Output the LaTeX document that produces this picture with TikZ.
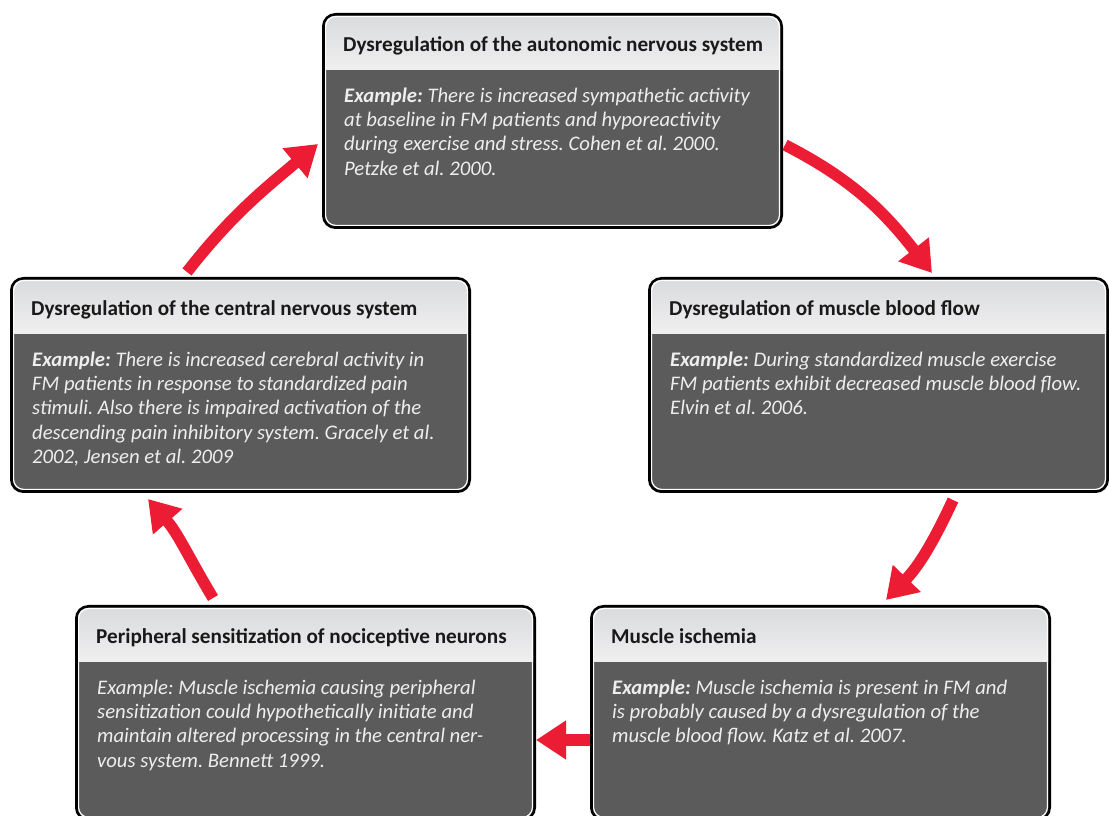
\documentclass[tikz,border=0pt]{standalone}
\usepackage{fontspec}
\setmainfont{Carlito}
\usepackage{xcolor}
\usepackage{tikz}
\usetikzlibrary{positioning, arrows.meta}
\frenchspacing

\definecolor{fmred}{RGB}{236,28,52}
\definecolor{bodygray}{RGB}{91,91,91}
\definecolor{headtop}{RGB}{217,218,220}
\definecolor{headbot}{RGB}{239,239,240}
\definecolor{bodytext}{RGB}{238,238,238}

\tikzset{
  boxframe/.style={draw=black, line width=3pt, rounded corners=12pt, minimum width=458pt,
    minimum height=213pt, outer sep=1.5pt, inner sep=0pt, anchor=north west},
  boxtitle/.style={anchor=base west, inner sep=0pt, text=black!90,
    font=\bfseries\fontsize{21.2}{24}\selectfont},
  boxtext/.style={anchor=north west, inner sep=0pt, align=left, text=bodytext,
    font=\itshape\fontsize{20.7}{24.3}\selectfont},
  flow/.style={draw=fmred, line width=11.5pt, -{Triangle[width=37pt, length=30pt]}}
}

% #1 name, #2 top left corner, #3 title, #4 text
\newcommand{\fmbox}[4]{%
  \node[boxframe] (#1) at (#2) {};
  \begin{scope}
    \clip[rounded corners=10pt] ([shift={(3,-3)}]#1.north west) rectangle ([shift={(-3,3)}]#1.south east);
    \fill[bodygray] (#1.north west) rectangle (#1.south east);
    \shade[top color=headtop, bottom color=headbot] (#1.north west) rectangle ([shift={(0,-57)}]#1.north east);
  \end{scope}
  \draw[white, line width=1.2pt, rounded corners=10pt] ([shift={(3.6,-3.6)}]#1.north west)
    rectangle ([shift={(-3.6,3.6)}]#1.south east);
  \node[boxtitle] (#1-title) at ([shift={(21,-39)}]#1.north west) {#3};
  \node[boxtext] (#1-text) at ([shift={(22,-72)}]#1.north west) {\strut#4};
}

\begin{document}
\begin{tikzpicture}[x=1pt, y=1pt]
  \useasboundingbox (0,0) rectangle (1109,816);
  \clip (0,0) rectangle (1109,816);

  \fmbox{ans}{322,803}{Dysregulation of the autonomic nervous system}
    {\textbf{Example:} There is increased sympathetic activity\\at baseline in FM patients and hyporeactivity\\during exercise and stress. Cohen et al. 2000.\\Petzke et al. 2000.}
  \fmbox{cns}{10,539}{Dysregulation of the central nervous system}
    {\textbf{Example:} There is increased cerebral activity in\\FM patients in response to standardized pain\\stimuli. Also there is impaired activation of the\\descending pain inhibitory system. Gracely et al.\\2002, Jensen et al. 2009}
  \fmbox{mbf}{648,539}{Dysregulation of muscle blood flow}
    {\textbf{Example:} During standardized muscle exercise\\FM patients exhibit decreased muscle blood flow.\\Elvin et al. 2006.}
  \fmbox{psn}{75,211}{Peripheral sensitization of nociceptive neurons}
    {Example: Muscle ischemia causing peripheral\\sensitization could hypothetically initiate and\\maintain altered processing in the central ner-\\vous system. Bennett 1999.}
  \fmbox{mi}{590,211}{Muscle ischemia}
    {\textbf{Example:} Muscle ischemia is present in FM and\\is probably caused by a dysregulation of the\\muscle blood flow. Katz et al. 2007.}

  % cycle arrows
  \coordinate (a1) at ([shift={(177,5)}]cns.north west);
  \coordinate (a2) at ([shift={(-4,-131)}]ans.north west);
  \coordinate (b1) at ([shift={(2,-132)}]ans.north east);
  \coordinate (b2) at ([shift={(284,4)}]mbf.north west);
  \coordinate (c1) at ([shift={(305,-7)}]mbf.south west);
  \coordinate (c2) at ([shift={(296,5)}]mi.north west);
  \coordinate (e1) at ([shift={(138,7)}]psn.north west);
  \coordinate (e2) at ([shift={(138,-6)}]cns.south west);
  \draw[flow] (a1) to[out=52, in=220] (a2);
  \draw[flow] (b1) to[out=-27, in=128] (b2);
  \draw[flow] (c1) to[out=-115, in=46] (c2);
  \draw[flow] ([shift={(0,-135)}]mi.north west) -- ([shift={(0,-135)}]psn.north east);
  \draw[flow] (e1) to[out=121, in=-49] (e2);
\end{tikzpicture}
\end{document}
